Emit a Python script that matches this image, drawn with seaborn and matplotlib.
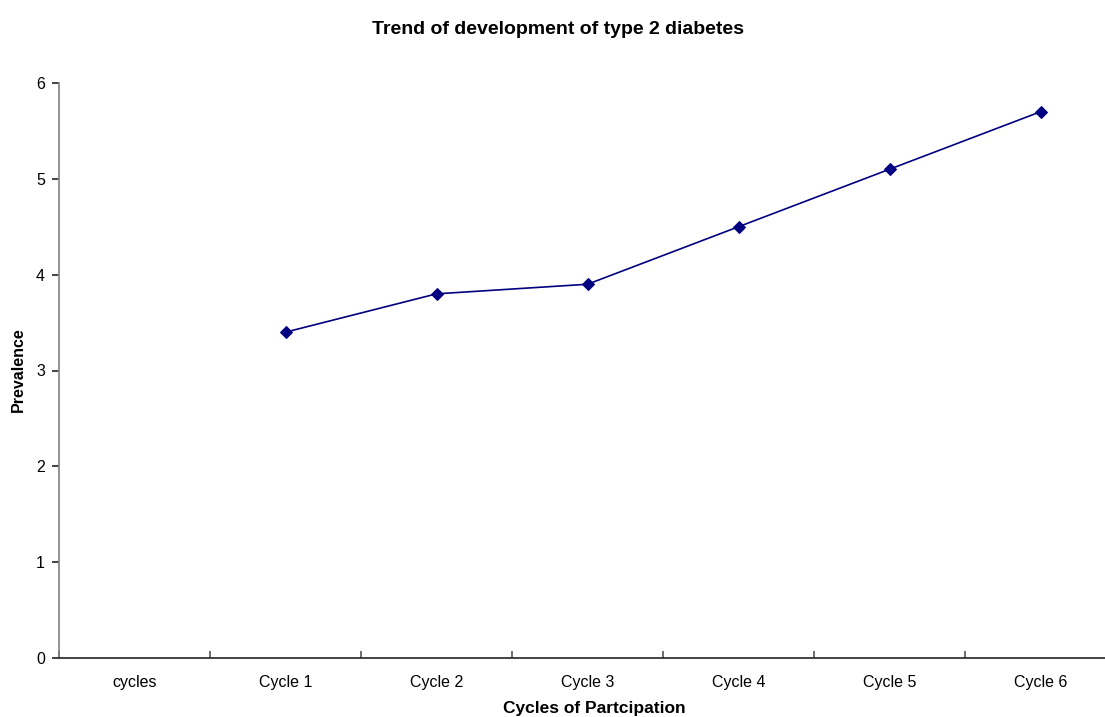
import numpy as np
import pandas as pd
import matplotlib
matplotlib.use("Agg")
import matplotlib.pyplot as plt
import seaborn as sns

categories = ["cycles", "Cycle 1", "Cycle 2", "Cycle 3", "Cycle 4", "Cycle 5", "Cycle 6"]
prevalence = [np.nan, 3.4, 3.8, 3.9, 4.5, 5.1, 5.7]
y_ticks = [0, 1, 2, 3, 4, 5, 6]

sns.set_style("white")
plt.rcParams["font.family"] = ["Liberation Sans", "DejaVu Sans"]
plt.rcParams["text.color"] = "black"
plt.rcParams["xtick.color"] = "black"
plt.rcParams["ytick.color"] = "black"

df = pd.DataFrame({"pos": np.arange(len(categories)), "prevalence": prevalence})
df = df.dropna()

fig = plt.figure(figsize=(11.05, 7.17), dpi=100)
ax = fig.add_axes([59 / 1105, 59 / 717, 1057 / 1105, 575 / 717])

sns.lineplot(data=df, x="pos", y="prevalence", ax=ax, color="#000080",
             marker="D", markersize=6.5, markeredgecolor="#000080",
             linewidth=1.2, sort=False)

ax.set_xlim(-0.5, len(categories) - 0.5)
ax.set_ylim(0, 6)
ax.set_yticks(y_ticks)

# tick marks on category boundaries, labels in the middle
ax.set_xticks(np.arange(len(categories) + 1) - 0.5)
ax.set_xticklabels([])
ax.set_xticks(np.arange(len(categories)), minor=True)
ax.set_xticklabels(categories, minor=True, fontsize=11.5)
ax.tick_params(axis="x", which="minor", bottom=True, length=0, pad=12)
ax.tick_params(axis="x", which="major", bottom=True, direction="in",
               length=5, width=1.2, color="#555555")
ax.tick_params(axis="y", left=True, direction="out", length=5, width=1.2,
               labelsize=11.5, pad=5, color="#222222")

for s in ["top", "right"]:
    ax.spines[s].set_visible(False)
ax.spines["left"].set_color("#808080")
ax.spines["bottom"].set_color("#222222")
ax.spines["left"].set_linewidth(1.2)
ax.spines["bottom"].set_linewidth(1.2)

ax.set_xlabel("")
ax.set_ylabel("")
fig.text(558 / 1105, 1 - 29 / 717, "Trend of development of type 2 diabetes",
         ha="center", va="center", fontsize=14, fontweight="bold")
fig.text(594 / 1105, 1 - 708 / 717, "Cycles of Partcipation",
         ha="center", va="center", fontsize=12.5, fontweight="bold")
fig.text(18.5 / 1105, 1 - 370 / 717, "Prevalence", rotation=90,
         ha="center", va="center", fontsize=11.5, fontweight="bold")

fig.savefig("out.png", dpi=100)
